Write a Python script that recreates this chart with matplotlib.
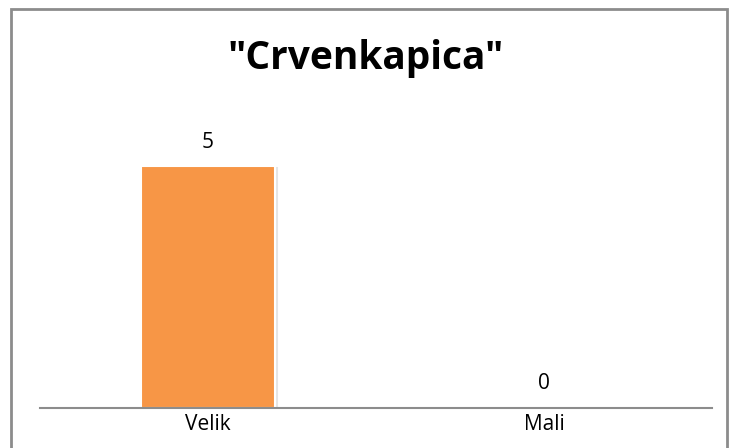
import matplotlib.pyplot as plt
import matplotlib.patheffects as pe
from matplotlib.patches import Rectangle

categories = ['Velik', 'Mali']
values = [5, 0]

plt.rcParams['font.family'] = ['Open Sans', 'DejaVu Sans']

W, H = 731, 448
fig = plt.figure(figsize=(W / 100, H / 100), dpi=100)

# outer chart border (grey, like the Excel chart frame)
fig.patches.append(Rectangle((11 / W, -0.1), 716 / W, 1 - 9 / H + 0.1,
                             transform=fig.transFigure, fill=False,
                             edgecolor='#8c8c8c', linewidth=2))

ax = fig.add_axes([40 / W, (H - 408) / H, 672 / W, 290 / H])
pos = range(len(categories))
bars = ax.bar(pos, values, width=0.4, color='#F79646', edgecolor='white',
              linewidth=1.5,
              path_effects=[pe.SimpleLineShadow(offset=(1.5, -1.5), shadow_color='#aaaaaa', alpha=0.3),
                            pe.Normal()])
ax.set_xlim(-0.5, 1.5)
ax.set_ylim(0, 6)

for rect, v in zip(bars, values):
    ax.text(rect.get_x() + rect.get_width() / 2, v + 0.5, str(v),
            ha='center', va='center', fontsize=15)

ax.set_xticks(list(pos))
ax.set_xticklabels(categories, fontsize=15)
ax.tick_params(axis='x', length=0, pad=4)
ax.set_yticks([])
for s in ['top', 'right', 'left']:
    ax.spines[s].set_visible(False)
ax.spines['bottom'].set_color('#8c8c8c')
ax.spines['bottom'].set_linewidth(1.5)

fig.text(0.5, (H - 58) / H, '"Crvenkapica"', ha='center', va='center',
         fontsize=28, fontweight='bold')

fig.savefig('out.png', dpi=100)
